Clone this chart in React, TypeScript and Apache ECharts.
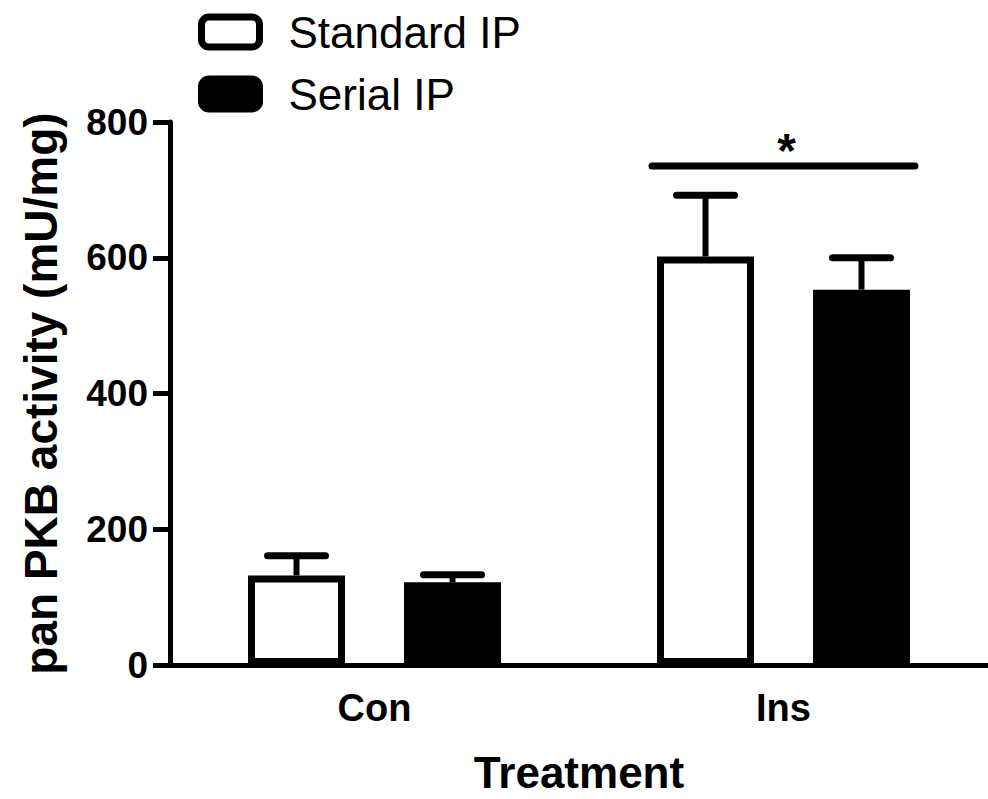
import React, { useEffect, useRef } from "react";
import * as echarts from "echarts";

const categories = ["Con", "Ins"];
const seriesNames = ["Standard IP", "Serial IP"];
const standardMean = [132, 602];
const standardErr = [29, 90];
const serialMean = [122, 553];
const serialErr = [11, 47];
const yMin = 0;
const yMax = 800;
const yInterval = 200;
const xTitle = "Treatment";
const yTitle = "pan PKB activity (mU/mg)";
const sigCategory = 1;
const sigValue = 735;
const sigLabel = "*";

const FONT = "'Liberation Sans', Arial, Helvetica, sans-serif";
const BAR_W = 97;
const BAR_GAP_PX = 59;
const HALF_SPACING = (BAR_W + BAR_GAP_PX) / 2;

function errorSeries(name: string, means: number[], errs: number[], sign: number) {
  return {
    type: "custom",
    name: name + " error",
    z: 1,
    silent: true,
    data: categories.map((_, i) => [i, means[i], means[i] + errs[i]]),
    renderItem: (params: any, api: any) => {
      const base = api.coord([api.value(0), api.value(1)]);
      const top = api.coord([api.value(0), api.value(2)]);
      const x = base[0] + sign * HALF_SPACING;
      return {
        type: "group",
        children: [
          {
            type: "line",
            shape: { x1: x, y1: base[1], x2: x, y2: top[1] },
            style: { stroke: "#000", lineWidth: 6 },
          },
          {
            type: "line",
            shape: { x1: x - 29, y1: top[1], x2: x + 29, y2: top[1] },
            style: { stroke: "#000", lineWidth: 7, lineCap: "round" },
          },
        ],
      };
    },
  };
}

export default function App() {
  const ref = useRef<HTMLDivElement>(null);
  useEffect(() => {
    if (!ref.current) return;
    const chart = echarts.init(ref.current, null, { renderer: "svg" });
    chart.setOption({
      animation: false,
      backgroundColor: "#fff",
      textStyle: { fontFamily: FONT, color: "#000" },
      legend: {
        left: 193,
        top: 5,
        orient: "vertical",
        itemWidth: 58,
        itemHeight: 30,
        itemGap: 18,
        textStyle: { fontFamily: FONT, fontSize: 44, color: "#000", padding: [0, 0, 0, 24] },
        data: [
          {
            name: seriesNames[0],
            icon: "roundRect",
            itemStyle: { color: "#fff", borderColor: "#000", borderWidth: 7 },
          },
          {
            name: seriesNames[1],
            icon: "roundRect",
            itemStyle: { color: "#000", borderColor: "#000", borderWidth: 7 },
          },
        ],
      },
      grid: { left: 170, right: -8, top: 122, bottom: 126 },
      xAxis: {
        type: "category",
        data: categories,
        name: xTitle,
        nameLocation: "middle",
        nameGap: 85,
        nameTextStyle: { fontFamily: FONT, fontSize: 44, fontWeight: "bold", color: "#000" },
        axisLine: { lineStyle: { color: "#000", width: 5 } },
        axisTick: { alignWithLabel: true, length: 20, lineStyle: { color: "#000", width: 5 } },
        axisLabel: { fontFamily: FONT, fontSize: 38, fontWeight: "bold", color: "#000", margin: 24 },
        splitLine: { show: false },
      },
      yAxis: {
        type: "value",
        min: yMin,
        max: yMax,
        interval: yInterval,
        name: yTitle,
        nameLocation: "middle",
        nameGap: 106,
        nameTextStyle: { fontFamily: FONT, fontSize: 46, fontWeight: "bold", color: "#000" },
        axisLine: { show: true, lineStyle: { color: "#000", width: 5 } },
        axisTick: { show: true, length: 17, lineStyle: { color: "#000", width: 5 } },
        axisLabel: { fontFamily: FONT, fontSize: 37, fontWeight: "bold", color: "#000", margin: 22 },
        splitLine: { show: false },
      },
      series: [
        {
          type: "bar",
          name: seriesNames[0],
          data: standardMean,
          barWidth: BAR_W,
          barGap: (BAR_GAP_PX / BAR_W) * 100 + "%",
          itemStyle: { color: "#fff", borderColor: "#000", borderWidth: 7 },
          z: 2,
        },
        {
          type: "bar",
          name: seriesNames[1],
          data: serialMean,
          barWidth: BAR_W,
          itemStyle: { color: "#000", borderColor: "#000", borderWidth: 7 },
          z: 2,
        },
        errorSeries(seriesNames[0], standardMean, standardErr, -1),
        errorSeries(seriesNames[1], serialMean, serialErr, 1),
        {
          type: "custom",
          name: "significance",
          silent: true,
          z: 3,
          data: [[sigCategory, sigValue]],
          renderItem: (params: any, api: any) => {
            const p = api.coord([api.value(0), api.value(1)]);
            const half = HALF_SPACING + BAR_W / 2 + 5;
            return {
              type: "group",
              children: [
                {
                  type: "line",
                  shape: { x1: p[0] - half, y1: p[1], x2: p[0] + half, y2: p[1] },
                  style: { stroke: "#000", lineWidth: 7, lineCap: "round" },
                },
                {
                  type: "text",
                  x: p[0] + 3,
                  y: p[1] - 16,
                  style: {
                    text: sigLabel,
                    fontFamily: FONT,
                    fontSize: 48,
                    fontWeight: "bold",
                    fill: "#000",
                    align: "center",
                    verticalAlign: "middle",
                  },
                },
              ],
            };
          },
        },
      ],
    });
    return () => chart.dispose();
  }, []);
  return (
    <div
      ref={ref}
      style={{ position: "fixed", left: 0, top: 0, width: 988, height: 799, background: "#fff" }}
    />
  );
}
